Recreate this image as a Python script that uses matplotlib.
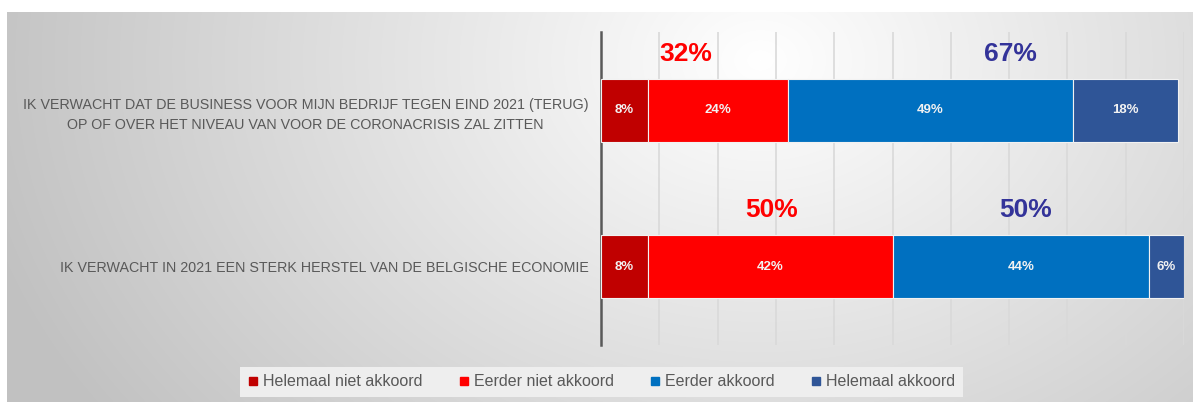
import numpy as np
import matplotlib.pyplot as plt
from matplotlib.lines import Line2D

# gegevens
categories = [
    "IK VERWACHT DAT DE BUSINESS VOOR MIJN BEDRIJF TEGEN EIND 2021 (TERUG)\n"
    "OP OF OVER HET NIVEAU VAN VOOR DE CORONACRISIS ZAL ZITTEN",
    "IK VERWACHT IN 2021 EEN STERK HERSTEL VAN DE BELGISCHE ECONOMIE",
]
series_names = ["Helemaal niet akkoord", "Eerder niet akkoord", "Eerder akkoord", "Helemaal akkoord"]
helemaal_niet = [8, 8]
eerder_niet = [24, 42]
eerder = [49, 44]
helemaal = [18, 6]
totaal_niet = [32, 50]
totaal_akkoord = [67, 50]

colors = ["#C00000", "#FF0000", "#0070C0", "#2F5597"]
plt.rcParams['font.family'] = ["Liberation Sans", "DejaVu Sans"]

fig = plt.figure(figsize=(11.93, 4.05), dpi=100)

# achtergrond met verloop
bg = fig.add_axes([7 / 1193, 3 / 405, 1 - 7 / 1193, 390 / 405])
W, H = 1186, 390
xx, yy = np.meshgrid(np.arange(W) + 7, np.arange(H) + 12)
d = np.sqrt((xx - 760) ** 2 + ((yy - 60) * 1.3) ** 2)
v = np.clip(1 - 0.0003 * d, 0.76, 1.0)
bg.imshow(np.dstack([v, v, v]), aspect='auto', extent=(0, 1, 0, 1))
bg.axis('off')

ax = fig.add_axes([601 / 1193, 1 - 345 / 405, 583 / 1193, 313 / 405])
ax.patch.set_alpha(0)

y = [1, 0]
left = np.zeros(2)
for vals, col in zip([helemaal_niet, eerder_niet, eerder, helemaal], colors):
    bars = ax.barh(y, vals, left=left, height=0.4, color=col, edgecolor='#F2F2F2',
                   linewidth=0.8, zorder=3)
    ax.bar_label(bars, labels=[f"{v}%" for v in vals], label_type='center',
                 color='#F2F2F2', fontsize=9.5, fontweight='bold', zorder=4)
    left += np.array(vals)

# totalen boven de balken
pos_niet = [14.6, 29.2]
pos_akkoord = [70.2, 72.9]
for i in range(2):
    ax.text(pos_niet[i], y[i] + 0.36, f"{totaal_niet[i]}%", color='#FF0000', fontsize=19,
            fontweight='bold', ha='center', va='center')
    ax.text(pos_akkoord[i], y[i] + 0.36, f"{totaal_akkoord[i]}%", color='#333399', fontsize=19,
            fontweight='bold', ha='center', va='center')

ax.set_xlim(0, 100)
ax.set_ylim(-0.5, 1.5)
ax.set_xticks(range(10, 101, 10))
ax.xaxis.grid(True, color='#D9D9D9', linewidth=1.2, zorder=0)
ax.tick_params(axis='x', length=0, labelbottom=False)
ax.set_yticks(y)
ax.set_yticklabels(categories, fontsize=10.3, color='#595959', linespacing=1.55)
for lbl in ax.get_yticklabels():
    lbl.set_multialignment('center')
ax.tick_params(axis='y', length=0, pad=9)
for s in ['top', 'right', 'bottom']:
    ax.spines[s].set_visible(False)
ax.spines['left'].set_color('#595959')
ax.spines['left'].set_linewidth(1.8)

handles = [Line2D([], [], marker='s', linestyle='none', markersize=6, color=c) for c in colors]
leg = fig.legend(handles, series_names, loc='center', bbox_to_anchor=(0.504, 1 - 382 / 405),
                 ncol=4, fontsize=11.5, frameon=True, facecolor='#EEEEEE', edgecolor='none',
                 framealpha=1, fancybox=False, handlelength=0.7, handletextpad=0.3,
                 columnspacing=2.2, borderpad=0.5)
for t in leg.get_texts():
    t.set_color('#595959')

fig.savefig('out.png', dpi=100)
